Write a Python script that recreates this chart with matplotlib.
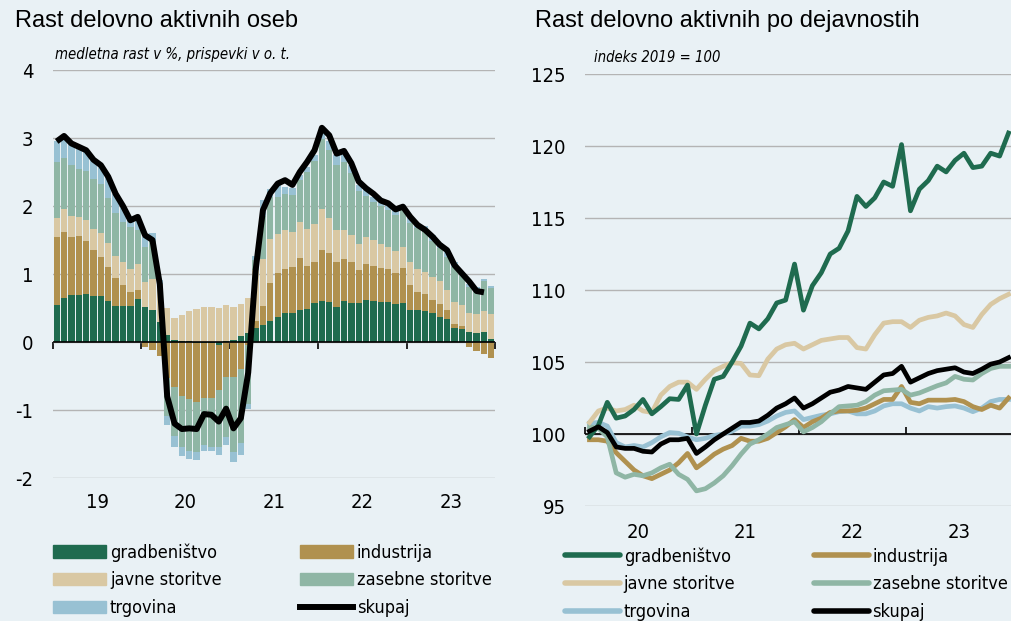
import numpy as np
import matplotlib.pyplot as plt
from matplotlib.patches import Patch
from matplotlib.lines import Line2D

plt.rcParams['font.family'] = ['DejaVu Sans']
plt.rcParams['font.stretch'] = 'condensed'
plt.rcParams['axes.unicode_minus'] = False

# barve
bg = '#e9f1f5'
c_gradb = '#1f6b4f'
c_ind = '#b0914f'
c_jav = '#d9c8a3'
c_zas = '#8fb6a5'
c_trg = '#98c1d3'
c_grid = '#b4b4b4'

# levi graf - prispevki k medletni rasti (mesecno 2019-2023)
leta_levo = ['19', '20', '21', '22', '23']
gradb = [0.54, 0.65, 0.69, 0.69, 0.71, 0.67, 0.67, 0.61, 0.53, 0.53, 0.53, 0.63,
         0.52, 0.47, 0.30, 0.10, 0.03, 0.02, 0.01, -0.02, -0.01, -0.02, -0.04, 0.01,
         0.03, 0.09, 0.13, 0.20, 0.25, 0.31, 0.37, 0.42, 0.43, 0.47, 0.49, 0.58,
         0.60, 0.59, 0.52, 0.60, 0.58, 0.57, 0.62, 0.60, 0.59, 0.59, 0.56, 0.58,
         0.47, 0.47, 0.46, 0.43, 0.37, 0.34, 0.21, 0.19, 0.15, 0.13, 0.14, 0.05]
industrija = [1.01, 0.97, 0.85, 0.87, 0.78, 0.68, 0.58, 0.50, 0.41, 0.31, 0.21, 0.14,
              -0.07, -0.12, -0.20, -0.53, -0.66, -0.80, -0.84, -0.86, -0.82, -0.81, -0.66, -0.52,
              -0.51, -0.40, -0.04, 0.11, 0.28, 0.56, 0.64, 0.66, 0.68, 0.77, 0.63, 0.60,
              0.75, 0.72, 0.66, 0.62, 0.59, 0.49, 0.53, 0.52, 0.50, 0.48, 0.46, 0.51,
              0.37, 0.26, 0.25, 0.19, 0.19, 0.13, 0.05, 0.04, -0.08, -0.13, -0.18, -0.23]
javne = [0.28, 0.33, 0.32, 0.28, 0.31, 0.31, 0.35, 0.35, 0.32, 0.34, 0.34, 0.38,
         0.36, 0.45, 0.55, 0.40, 0.32, 0.38, 0.45, 0.48, 0.51, 0.52, 0.50, 0.53,
         0.48, 0.47, 0.51, 0.75, 0.69, 0.64, 0.58, 0.56, 0.51, 0.52, 0.54, 0.56,
         0.60, 0.52, 0.46, 0.43, 0.40, 0.38, 0.39, 0.38, 0.35, 0.33, 0.32, 0.31,
         0.33, 0.34, 0.32, 0.33, 0.33, 0.30, 0.33, 0.31, 0.28, 0.28, 0.32, 0.36]
zasebne = [0.82, 0.76, 0.74, 0.70, 0.71, 0.73, 0.72, 0.66, 0.64, 0.59, 0.61, 0.50,
           0.52, 0.56, 0.00, -0.56, -0.72, -0.74, -0.77, -0.74, -0.68, -0.71, -0.84, -0.87,
           -1.11, -1.09, -0.87, 0.15, 0.63, 0.62, 0.54, 0.54, 0.54, 0.62, 0.84, 0.92,
           1.03, 1.00, 0.96, 0.99, 0.91, 0.78, 0.61, 0.56, 0.56, 0.54, 0.53, 0.54,
           0.58, 0.60, 0.60, 0.54, 0.49, 0.48, 0.52, 0.45, 0.38, 0.36, 0.43, 0.38]
trgovina = [0.31, 0.29, 0.32, 0.34, 0.31, 0.29, 0.27, 0.31, 0.28, 0.24, 0.15, 0.15,
            0.14, 0.12, 0.06, -0.13, -0.16, -0.14, -0.11, -0.12, -0.09, -0.07, -0.12, -0.12,
            -0.15, -0.17, -0.07, 0.05, 0.24, 0.12, 0.18, 0.10, 0.10, 0.08, 0.08, 0.09,
            0.09, 0.12, 0.15, 0.11, 0.12, 0.09, 0.08, 0.07, 0.06, 0.07, 0.07, 0.07,
            0.07, 0.07, 0.07, 0.08, 0.07, 0.08, 0.06, 0.04, 0.04, 0.04, 0.03, 0.03]
skupaj_levo = [2.95, 3.03, 2.92, 2.87, 2.82, 2.68, 2.60, 2.43, 2.18, 2.00, 1.79, 1.84,
               1.57, 1.50, 0.85, -0.80, -1.20, -1.28, -1.27, -1.28, -1.06, -1.07, -1.17, -0.98,
               -1.27, -1.12, -0.45, 1.05, 1.94, 2.19, 2.33, 2.38, 2.31, 2.50, 2.65, 2.82,
               3.15, 3.04, 2.77, 2.81, 2.63, 2.36, 2.26, 2.18, 2.08, 2.04, 1.95, 1.99,
               1.84, 1.72, 1.65, 1.55, 1.43, 1.35, 1.13, 1.01, 0.89, 0.75, 0.73]

# desni graf - indeksi 2019 = 100 (mesecno 2020-2023)
leta_desno = ['20', '21', '22', '23']
i_gradb = [99.8, 100.6, 102.2, 101.1, 101.25, 101.7, 102.4, 101.4, 101.9, 102.45, 102.4, 103.4,
           100.0, 102.0, 103.8, 104.0, 105.0, 106.1, 107.7, 107.3, 108.0, 109.1, 109.3, 111.8,
           108.6, 110.3, 111.2, 112.5, 112.9, 114.1, 116.5, 115.8, 116.4, 117.5, 117.2, 120.1,
           115.5, 117.0, 117.6, 118.6, 118.2, 119.0, 119.5, 118.5, 118.6, 119.5, 119.3, 120.9]
i_javne = [100.8, 101.6, 101.8, 101.6, 101.7, 102.0, 101.6, 101.5, 102.7, 103.3, 103.6, 103.6,
           103.1, 103.8, 104.4, 104.7, 104.95, 104.9, 104.1, 104.05, 105.2, 105.9, 106.2, 106.3,
           105.9, 106.2, 106.5, 106.6, 106.7, 106.7, 106.0, 105.9, 106.9, 107.7, 107.8, 107.8,
           107.4, 107.9, 108.1, 108.2, 108.4, 108.2, 107.6, 107.4, 108.3, 109.0, 109.4, 109.7]
i_ind = [99.6, 99.6, 99.5, 98.7, 98.1, 97.5, 97.1, 96.9, 97.2, 97.5, 98.0, 98.65,
         97.65, 98.1, 98.6, 98.95, 99.2, 99.7, 99.5, 99.5, 99.7, 100.1, 100.5, 101.0,
         100.45, 100.85, 101.1, 101.5, 101.6, 101.6, 101.65, 101.8, 102.1, 102.4, 102.4, 103.3,
         102.2, 102.1, 102.35, 102.35, 102.35, 102.4, 102.25, 101.9, 101.7, 102.0, 101.8, 102.5]
i_zas = [100.5, 100.4, 99.8, 97.3, 97.0, 97.2, 97.1, 97.3, 97.65, 97.9, 97.2, 96.85,
         96.05, 96.2, 96.6, 97.1, 97.8, 98.6, 99.3, 99.6, 100.0, 100.45, 100.65, 100.85,
         100.15, 100.45, 100.85, 101.4, 101.9, 101.95, 102.0, 102.25, 102.7, 103.0, 103.05, 103.1,
         102.7, 102.85, 103.1, 103.35, 103.55, 104.0, 103.8, 103.75, 104.2, 104.55, 104.7, 104.7]
i_trg = [100.75, 100.8, 100.55, 99.4, 99.1, 99.2, 99.1, 99.4, 99.8, 100.1, 100.05, 99.8,
         99.6, 99.7, 99.9, 100.0, 100.2, 100.55, 100.55, 100.65, 100.9, 101.25, 101.5, 101.6,
         101.0, 101.15, 101.3, 101.4, 101.55, 101.6, 101.4, 101.4, 101.6, 101.95, 102.1, 102.1,
         101.8, 101.6, 101.9, 101.8, 101.9, 101.95, 101.8, 101.55, 101.8, 102.25, 102.4, 102.4]
i_skupaj = [100.2, 100.5, 100.1, 99.1, 99.0, 99.0, 98.8, 98.75, 99.3, 99.6, 99.6, 99.7,
            98.65, 99.1, 99.6, 100.0, 100.4, 100.8, 100.8, 100.9, 101.3, 101.8, 102.1, 102.5,
            101.8, 102.1, 102.5, 102.9, 103.05, 103.3, 103.2, 103.1, 103.6, 104.1, 104.2, 104.7,
            103.6, 103.9, 104.2, 104.4, 104.5, 104.6, 104.3, 104.2, 104.5, 104.85, 105.0, 105.3]

fig = plt.figure(figsize=(10.11, 6.21), dpi=100, facecolor=bg)

# ---------------- levi graf ----------------
ax1 = fig.add_axes([53/1011, 1 - 478/621, 442/1011, 408/621])
ax1.set_facecolor(bg)
x = np.arange(len(gradb)) + 0.5
komponente = [(gradb, c_gradb), (industrija, c_ind), (javne, c_jav),
              (zasebne, c_zas), (trgovina, c_trg)]
pos = np.zeros(len(x))
neg = np.zeros(len(x))
for vals, col in komponente:
    v = np.array(vals)
    bottom = np.where(v >= 0, pos, neg)
    ax1.bar(x, v, bottom=bottom, width=0.86, color=col, linewidth=0, zorder=2)
    pos = pos + np.where(v >= 0, v, 0)
    neg = neg + np.where(v < 0, v, 0)
ax1.plot(x[:len(skupaj_levo)], skupaj_levo, color='black', lw=4.3,
         solid_joinstyle='round', solid_capstyle='butt', zorder=4)

ax1.set_ylim(-2, 4)
ax1.set_xlim(0, 60)
ax1.set_yticks(range(-2, 5))
ax1.yaxis.grid(True, color=c_grid, lw=1)
ax1.set_axisbelow(True)
ax1.axhline(0, color='black', lw=1.2, zorder=3)
ax1.set_xticks([])
ax1.set_xticks(np.arange(6, 60, 12), leta_levo, minor=True)
ax1.tick_params(which='both', length=0, labelsize=14.5)
ax1.tick_params(axis='y', pad=14)
ax1.tick_params(axis='x', which='minor', pad=11)
for s in ax1.spines.values():
    s.set_visible(False)
sec1 = ax1.secondary_xaxis(0, transform=ax1.transData)
sec1.set_xticks(np.arange(0, 61, 12), [''] * 6)
sec1.tick_params(length=5, width=1.2, color='black')
sec1.spines['bottom'].set_visible(False)

# ---------------- desni graf ----------------
ax2 = fig.add_axes([585/1011, 1 - 506/621, 428/1011, 432/621])
ax2.set_facecolor(bg)
x2 = np.arange(len(i_gradb)) + 0.5
lw = 3.4
ax2.plot(x2, i_trg, color=c_trg, lw=lw, zorder=3)
ax2.plot(x2, i_ind, color=c_ind, lw=lw, zorder=3)
ax2.plot(x2, i_zas, color=c_zas, lw=lw, zorder=3)
ax2.plot(x2, i_javne, color=c_jav, lw=lw, zorder=3)
ax2.plot(x2, i_gradb, color=c_gradb, lw=lw, zorder=4)
ax2.plot(x2, i_skupaj, color='black', lw=lw, zorder=5)
ax2.set_ylim(95, 125)
ax2.set_xlim(0, 48)
ax2.set_yticks(range(95, 126, 5))
ax2.yaxis.grid(True, color=c_grid, lw=1)
ax2.set_axisbelow(True)
ax2.axhline(100, color='black', lw=1.2, zorder=2)
ax2.set_xticks([])
ax2.set_xticks(np.arange(6, 48, 12), leta_desno, minor=True)
ax2.tick_params(which='both', length=0, labelsize=14.5)
ax2.tick_params(axis='y', pad=14)
ax2.tick_params(axis='x', which='minor', pad=12)
for s in ax2.spines.values():
    s.set_visible(False)
sec2 = ax2.secondary_xaxis(100, transform=ax2.transData)
sec2.set_xticks(np.arange(0, 49, 12), [''] * 5)
sec2.tick_params(length=5, width=1.2, color='black')
sec2.spines['bottom'].set_visible(False)

# naslovi
fig.text(15/1011, 1 - 21/621, 'Rast delovno aktivnih oseb', fontsize=17,
         family=['Liberation Sans'], stretch='normal', va='center', ha='left')
fig.text(535/1011, 1 - 21/621, 'Rast delovno aktivnih po dejavnostih', fontsize=17,
         family=['Liberation Sans'], stretch='normal', va='center', ha='left')
fig.text(55/1011, 1 - 55/621, 'medletna rast v %, prispevki v o. t.', fontsize=10.7,
         style='italic', va='center', ha='left')
fig.text(594/1011, 1 - 57/621, 'indeks 2019 = 100', fontsize=10.6,
         style='italic', va='center', ha='left')

# legende
h1 = [Patch(color=c_gradb), Patch(color=c_jav), Patch(color=c_trg),
      Patch(color=c_ind), Patch(color=c_zas),
      Line2D([], [], color='black', lw=4.3)]
l1 = ['gradbeništvo', 'javne storitve', 'trgovina', 'industrija', 'zasebne storitve', 'skupaj']
fig.legend(h1, l1, ncol=2, loc='upper left', bbox_to_anchor=(53/1011, 1 - 543/621),
           frameon=False, fontsize=13, handlelength=2.95, handleheight=0.7,
           handletextpad=0.2, labelspacing=0.55, columnspacing=4.35, borderaxespad=0,
           borderpad=0)

h2 = [Line2D([], [], color=c, lw=4, solid_capstyle='round')
      for c in [c_gradb, c_jav, c_trg, c_ind, c_zas, 'black']]
fig.legend(h2, l1, ncol=2, loc='upper left', bbox_to_anchor=(565/1011, 1 - 547/621),
           frameon=False, fontsize=13, handlelength=3.05, handletextpad=0.2,
           labelspacing=0.55, columnspacing=4.35, borderaxespad=0, borderpad=0)

plt.savefig('out.png', dpi=100, facecolor=bg)
